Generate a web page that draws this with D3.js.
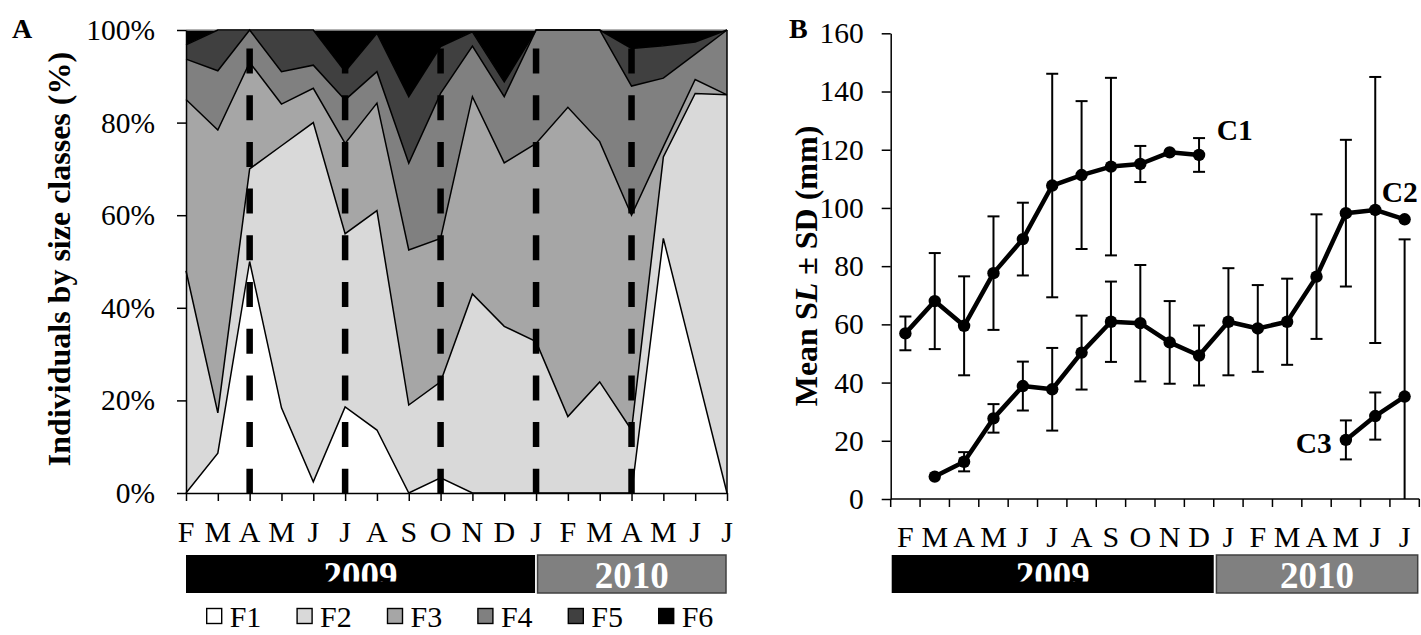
<!DOCTYPE html>
<html><head><meta charset="utf-8">
<script src="https://cdn.jsdelivr.net/npm/d3@7"></script>
<style>
html,body{margin:0;padding:0;background:#fff;}
svg{display:block;font-family:"Liberation Serif","Times New Roman",serif;}
</style></head><body>
<svg id="chart" width="1421" height="635"></svg>
<script>
// ---------------- DATA ----------------
const months = ["F","M","A","M","J","J","A","S","O","N","D","J","F","M","A","M","J","J"];
const yearLabels = ["2009","2010"];
const yearStartIdx = [0, 11];           // first month of each year
const classes = ["F1","F2","F3","F4","F5","F6"];
const classColors = ["#ffffff","#d9d9d9","#a6a6a6","#808080","#404040","#000000"];
// Panel A: % of individuals per size class per month
const f1 = [0, 8.6, 50, 18.4, 2.4, 18.6, 13.6, 0, 3.3, 0, 0, 0, 0, 0, 0, 55, 27.5, 0];
const f2 = [48, 8.7, 20, 56.6, 77.6, 37.4, 47.4, 19, 20.7, 43, 36, 32.7, 16.5, 24, 13.6, 17.6, 58.8, 86];
const f3 = [37, 61.1, 23, 9, 7.4, 19.5, 23.2, 33.5, 31, 42.6, 35.3, 42.8, 66.8, 51.9, 46.4, 2.2, 3, 0];
const f4 = [8.7, 12.8, 7, 7, 5, 9.4, 6.8, 18.7, 31.3, 10.9, 14.3, 24.5, 16.7, 24.1, 27.9, 14.8, 5.5, 14];
const f5 = [3.1, 8.8, 0, 9, 7.6, 6.1, 8.3, 14.4, 10.1, 3.1, 3.2, 0, 0, 0, 8.1, 7, 2.6, 0];
const f6 = [3.2, 0, 0, 0, 0, 9, 0.7, 14.4, 3.6, 0.4, 11.2, 0, 0, 0, 4, 3.4, 2.6, 0];
const yTicksA = [0, 20, 40, 60, 80, 100];
const dashedIdx = [2, 5, 8, 11, 14];
// Panel B: mean SL ± SD (mm) per cohort
const N = null;
const c1Mean = [56.9, 68, 59.5, 77.6, 89.3, 107.7, 111.3, 114.2, 115.1, 119.1, 118.2, N, N, N, N, N, N, N];
const c1Sd   = [5.8, 16.5, 17, 19.5, 12.5, 38.4, 25.4, 30.5, 6.2, N, 5.8, N, N, N, N, N, N, N];
const c2Mean = [N, 7.7, 12.8, 27.7, 38.8, 37.7, 50.3, 60.9, 60.4, 53.8, 49.3, 60.9, 58.6, 60.9, 76.4, 98.2, 99.3, 96.1];
const c2Sd   = [N, N, 3.3, 4.9, 8.4, 14.2, 12.7, 13.8, 20, 14.2, 10.3, 18.4, 14.9, 14.8, 21.4, 25.2, 45.7, N];
const c3Mean = [N, N, N, N, N, N, N, N, N, N, N, N, N, N, N, 20.3, 28.5, 35.2];
const c3Sd   = [N, N, N, N, N, N, N, N, N, N, N, N, N, N, N, 6.7, 8.1, 54];
const cohortNames = ["C1","C2","C3"];
const yTicksB = [0, 20, 40, 60, 80, 100, 120, 140, 160];

// ---------------- DRAW ----------------
const svg = d3.select("#chart");
const FONT = '"Liberation Serif","Times New Roman",serif';

// ===== Panel A =====
const A = {left:186, right:727, top:30, bottom:493};
const xA = d3.scalePoint().domain(d3.range(months.length)).range([A.left, A.right]);
const yA = d3.scaleLinear().domain([0,100]).range([A.bottom, A.top]);
const gA = svg.append("g");

const rows = months.map((m,i)=>({i, F1:f1[i], F2:f2[i], F3:f3[i], F4:f4[i], F5:f5[i], F6:f6[i]}));
const stacked = d3.stack().keys(classes)(rows);
const area = d3.area().x(d=>xA(d.data.i)).y0(d=>yA(d[0])).y1(d=>yA(Math.min(100,d[1])));
gA.selectAll("path.area").data(stacked).join("path")
  .attr("class","area").attr("fill",(d,i)=>classColors[i]).attr("stroke","none").attr("d",area);
// top gray edge
gA.append("line").attr("x1",xA(0)).attr("x2",xA(months.length-1)).attr("y1",yA(100)).attr("y2",yA(100))
  .attr("stroke","#9a9a9a").attr("stroke-width",1.5);
const bline = d3.line().x(d=>xA(d.data.i)).y(d=>yA(Math.min(100,d[1])));
gA.selectAll("path.bnd").data(stacked.slice(0,5)).join("path")
  .attr("class","bnd").attr("fill","none").attr("stroke","#000").attr("stroke-width",1.5)
  .attr("stroke-linejoin","miter").attr("d",bline);
// right edge
gA.append("line").attr("x1",xA(months.length-1)).attr("x2",xA(months.length-1))
  .attr("y1",yA(0)).attr("y2",yA(100)).attr("stroke","#000").attr("stroke-width",1.5);
// dashed verticals
gA.selectAll("line.dash").data(dashedIdx).join("line").attr("class","dash")
  .attr("x1",d=>xA(d)).attr("x2",d=>xA(d)).attr("y1",yA(96)).attr("y2",yA(0))
  .attr("stroke","#000").attr("stroke-width",6.5).attr("stroke-dasharray","25,21.7");

// y axis A
const yAxA = gA.append("g").attr("transform",`translate(${A.left},0)`)
  .call(d3.axisLeft(yA).tickValues(yTicksA).tickSize(9).tickSizeOuter(0).tickPadding(22).tickFormat(d=>d+"%"));
// x axis A
const xAxA = gA.append("g").attr("transform",`translate(0,${A.bottom})`)
  .call(d3.axisBottom(xA).tickSize(8).tickSizeOuter(0).tickFormat(""));
[yAxA, xAxA].forEach(ax=>{
  ax.selectAll("path,line").attr("stroke","#000").attr("stroke-width",1.5);
  ax.selectAll("text").attr("font-family",FONT).attr("font-size",29.5).attr("fill","#000");
});
gA.selectAll("text.mA").data(months).join("text").attr("class","mA")
  .attr("x",(d,i)=>xA(i)).attr("y",541.7).attr("text-anchor","middle")
  .attr("font-size",30).text(d=>d);

// year bars A
const defs = svg.append("defs");
defs.append("clipPath").attr("id","clipYear").append("rect")
  .attr("x",0).attr("y",550).attr("width",1421).attr("height",31.5);
const yrY = 555, yrH = 38;
function yearBars(g, spans){
  spans.forEach((s,k)=>{
    g.append("rect").attr("x",s.x0).attr("y",yrY).attr("width",s.x1-s.x0).attr("height",yrH)
      .attr("fill", k===0 ? "#000" : "#808080")
      .attr("stroke", k===0 ? "#000" : "#404040").attr("stroke-width", k===0?0:1.5);
    const t = g.append("text").attr("x",(s.x0+s.x1)/2).attr("y",588).attr("text-anchor","middle")
      .attr("font-size",37).attr("font-weight","bold").attr("fill","#fff").text(yearLabels[k]);
    if(k===0) t.attr("clip-path","url(#clipYear)");
  });
}
yearBars(gA, [
  {x0:xA(yearStartIdx[0]), x1:xA(yearStartIdx[1])-1},
  {x0:xA(yearStartIdx[1])+1.5, x1:xA(months.length-1)-1}
]);

// legend
const lg = svg.append("g");
classes.forEach((c,i)=>{
  const x = 206.7 + 90.4*i;
  lg.append("rect").attr("x",x).attr("y",608.5).attr("width",15).attr("height",15)
    .attr("fill",classColors[i]).attr("stroke","#000").attr("stroke-width",1.4);
  lg.append("text").attr("x",x+23).attr("y",626.7).attr("font-size",30).text(c);
});

// titles A
svg.append("text").attr("transform","translate(70,259) rotate(-90)").attr("text-anchor","middle")
  .attr("font-size",32).attr("font-weight","bold").text("Individuals by size classes (%)");
svg.append("text").attr("x",12).attr("y",38.3).attr("font-size",28).attr("font-weight","bold").text("A");

// ===== Panel B =====
const B = {left:890.7, right:1419.3, top:33.3, bottom:499};
const xB = d3.scaleBand().domain(d3.range(months.length)).range([B.left, B.right]).padding(0);
const bw = xB.bandwidth();
const cx = i => xB(i) + bw/2;
const yB = d3.scaleLinear().domain([0,160]).range([B.bottom, B.top]);
const gB = svg.append("g");

const yAxB = gB.append("g").attr("transform",`translate(${B.left},0)`)
  .call(d3.axisLeft(yB).tickValues(yTicksB).tickSize(9).tickSizeOuter(0).tickPadding(18));
yAxB.selectAll("path,line").attr("stroke","#000").attr("stroke-width",1.5);
yAxB.selectAll("text").attr("font-family",FONT).attr("font-size",29.5).attr("fill","#000");
// x axis B (ticks at band boundaries)
gB.append("line").attr("x1",B.left).attr("x2",B.right).attr("y1",B.bottom).attr("y2",B.bottom)
  .attr("stroke","#000").attr("stroke-width",1.5);
const bounds = d3.range(months.length).map(i=>xB(i)).concat([B.right]);
gB.selectAll("line.tb").data(bounds).join("line").attr("class","tb")
  .attr("x1",d=>d).attr("x2",d=>d).attr("y1",B.bottom).attr("y2",B.bottom+8)
  .attr("stroke","#000").attr("stroke-width",1.5);
gB.selectAll("text.mB").data(months).join("text").attr("class","mB")
  .attr("x",(d,i)=>cx(i)).attr("y",546.7).attr("text-anchor","middle")
  .attr("font-size",30).text(d=>d);

const cohorts = [[c1Mean,c1Sd],[c2Mean,c2Sd],[c3Mean,c3Sd]];
cohorts.forEach(([m,s])=>{
  m.forEach((v,i)=>{
    if(v==null || s[i]==null) return;
    const hi = v + s[i], lo = v - s[i];
    const lo2 = Math.max(0, lo);
    gB.append("line").attr("x1",cx(i)).attr("x2",cx(i)).attr("y1",yB(hi)).attr("y2",yB(lo2))
      .attr("stroke","#000").attr("stroke-width",2);
    gB.append("line").attr("x1",cx(i)-6).attr("x2",cx(i)+6).attr("y1",yB(hi)).attr("y2",yB(hi))
      .attr("stroke","#000").attr("stroke-width",2);
    if(lo >= 0) gB.append("line").attr("x1",cx(i)-6).attr("x2",cx(i)+6).attr("y1",yB(lo)).attr("y2",yB(lo))
      .attr("stroke","#000").attr("stroke-width",2);
  });
});
cohorts.forEach(([m,s])=>{
  const pts = m.map((v,i)=>({i,v})).filter(d=>d.v!=null);
  gB.append("path").datum(pts).attr("fill","none").attr("stroke","#000").attr("stroke-width",4.5)
    .attr("stroke-linejoin","round").attr("d",d3.line().x(d=>cx(d.i)).y(d=>yB(d.v)));
  gB.selectAll(null).data(pts).join("circle").attr("cx",d=>cx(d.i)).attr("cy",d=>yB(d.v))
    .attr("r",6.2).attr("fill","#000");
});
// cohort labels
gB.append("text").attr("x",cx(10)+17.7).attr("y",yB(c1Mean[10])-15).attr("font-size",29.5)
  .attr("font-weight","bold").text(cohortNames[0]);
gB.append("text").attr("x",cx(16)+6.5).attr("y",yB(c2Mean[16])-8.3).attr("font-size",29.5)
  .attr("font-weight","bold").text(cohortNames[1]);
gB.append("text").attr("x",cx(15)-14).attr("y",yB(c3Mean[15])+13.3).attr("font-size",29.5)
  .attr("font-weight","bold").attr("text-anchor","end").text(cohortNames[2]);

yearBars(gB, [
  {x0:xB(yearStartIdx[0])+1, x1:xB(yearStartIdx[1])},
  {x0:xB(yearStartIdx[1])+2.7, x1:B.right-1.6}
]);

const tB = svg.append("text").attr("transform","translate(817,266) rotate(-90)").attr("text-anchor","middle")
  .attr("font-size",32).attr("font-weight","bold");
tB.append("tspan").text("Mean S");
tB.append("tspan").attr("font-style","italic").text("L");
tB.append("tspan").text(" ± SD (mm)");
svg.append("text").attr("x",789).attr("y",38.3).attr("font-size",28).attr("font-weight","bold").text("B");
</script>
</body></html>
